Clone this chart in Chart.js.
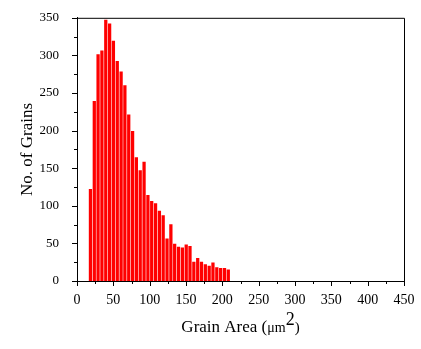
<!DOCTYPE html>
<html>
<head>
<meta charset="utf-8">
<script src="https://cdn.jsdelivr.net/npm/chart.js@4"></script>
<style>
  html, body { margin: 0; padding: 0; background: #fff; }
  #wrap { width: 421px; height: 349px; }
</style>
</head>
<body>
<div id="wrap"><canvas id="grainChart"></canvas></div>
<script>
// bin centres (um^2) and grain counts
const binCenters = [18.5, 23.8, 29.0, 34.3, 39.6, 44.9, 50.1, 55.4, 60.7, 65.9,
  71.2, 76.5, 81.7, 87.0, 92.3, 97.6, 102.8, 108.1, 113.4, 118.6,
  123.9, 129.2, 134.4, 139.7, 145.0, 150.3, 155.5, 160.8, 166.1, 171.3,
  176.6, 181.9, 187.1, 192.4, 197.7, 203.0, 208.2];
const grainCounts = [122, 239, 301, 306, 347, 342, 319, 292, 278, 260,
  221, 199, 164, 147, 158, 114, 106, 103, 93, 87,
  56, 75, 49, 45, 44, 48, 46, 25, 30, 25,
  22, 20, 24, 18, 17, 17, 15];
const xTicks = [0, 50, 100, 150, 200, 250, 300, 350, 400, 450];
const yTicks = [0, 50, 100, 150, 200, 250, 300, 350];

const serif = '"Liberation Serif", "Times New Roman", serif';

// frame + major/minor ticks + x title with superscript
const framePlugin = {
  id: 'frame',
  afterDraw(chart) {
    const { ctx, chartArea: a, scales: { x, y } } = chart;
    ctx.save();
    ctx.strokeStyle = '#000';
    ctx.lineWidth = 1;
    ctx.beginPath();
    ctx.moveTo(a.left, a.top + 0.5);
    ctx.lineTo(a.right + 0.5, a.top + 0.5);
    ctx.lineTo(a.right + 0.5, a.bottom);
    ctx.stroke();

    ctx.beginPath();
    for (let v = 0; v <= 450; v += 25) {
      const px = Math.round(x.getPixelForValue(v)) + 0.5;
      const len = v % 50 === 0 ? 5 : 3;
      ctx.moveTo(px, a.bottom);
      ctx.lineTo(px, a.bottom + len);
    }
    for (let v = 0; v <= 350; v += 25) {
      const py = Math.round(y.getPixelForValue(v)) + 0.5;
      const len = v % 50 === 0 ? 5 : 3;
      ctx.moveTo(a.left, py);
      ctx.lineTo(a.left - len, py);
    }
    ctx.stroke();

    // "Grain Area (μm2)"
    const parts = [
      { t: 'Grain Area (', size: 17, dy: 0 },
      { t: 'μm', size: 14, dy: 0 },
      { t: '2', size: 18, dy: -7 },
      { t: ')', size: 15, dy: 0 }
    ];
    let total = 0;
    parts.forEach(p => {
      ctx.font = p.size + 'px ' + serif;
      p.w = ctx.measureText(p.t).width;
      total += p.w;
    });
    let cx = (a.left + a.right) / 2 - total / 2;
    const baseY = 332;
    ctx.fillStyle = '#000';
    ctx.textBaseline = 'alphabetic';
    ctx.textAlign = 'left';
    parts.forEach(p => {
      ctx.font = p.size + 'px ' + serif;
      ctx.fillText(p.t, cx, baseY + p.dy);
      cx += p.w;
    });
    ctx.restore();
  }
};

new Chart(document.getElementById('grainChart').getContext('2d'), {
  type: 'bar',
  data: {
    datasets: [{
      data: binCenters.map((c, i) => ({ x: c, y: grainCounts[i] })),
      backgroundColor: '#ff0000',
      borderWidth: 0,
      barThickness: 2.6
    }]
  },
  options: {
    responsive: true,
    maintainAspectRatio: false,
    animation: false,
    layout: { padding: { left: 0, top: 15, right: 17, bottom: 0 } },
    plugins: { legend: { display: false }, tooltip: { enabled: false } },
    scales: {
      x: {
        type: 'linear',
        offset: false,
        min: 0,
        max: 450,
        grid: { display: false },
        border: { display: true, color: '#000', width: 1 },
        afterFit: s => { s.height = 68; },
        afterBuildTicks: s => { s.ticks = xTicks.map(v => ({ value: v })); },
        ticks: {
          color: '#000',
          font: { family: serif, size: 14 },
          padding: 3,
          maxRotation: 0
        }
      },
      y: {
        min: 0,
        max: 350,
        grid: { display: false },
        border: { display: true, color: '#000', width: 1 },
        afterFit: s => { s.width = 77; },
        afterBuildTicks: s => { s.ticks = yTicks.map(v => ({ value: v })); },
        ticks: {
          color: '#000',
          font: { family: serif, size: 13 },
          padding: 10
        },
        title: {
          display: true,
          text: 'No. of Grains',
          color: '#000',
          font: { family: serif, size: 17 },
          padding: { top: 17, bottom: 0 }
        }
      }
    }
  },
  plugins: [framePlugin]
});
</script>
</body>
</html>
